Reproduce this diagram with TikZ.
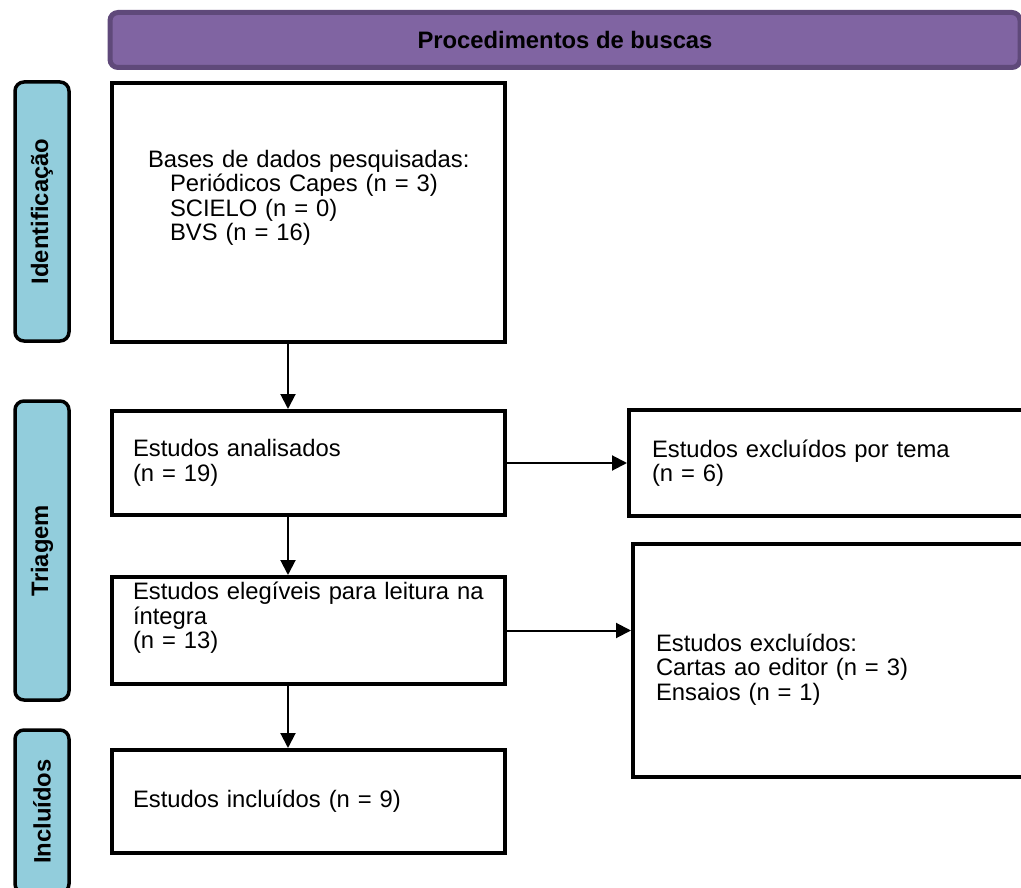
\documentclass[tikz,border=0pt]{standalone}
\usepackage{fontspec}
\setmainfont{Liberation Sans}
\usetikzlibrary{positioning, arrows.meta}
\definecolor{roxo}{HTML}{8064A2}
\definecolor{roxoescuro}{HTML}{5F497A}
\definecolor{azulclaro}{HTML}{92CDDC}
\newcommand{\corpo}{\fontsize{23.8}{24.5}\selectfont}
\tikzset{
    caixa/.style = {
        rectangle,
        draw,
        line width=4pt,
        align=left,
        anchor=north west,
        inner xsep=21pt,
        inner ysep=0pt,
        text width=351pt,
        font=\corpo
    },
    excluidos/.style = {caixa, anchor=west, minimum width=450pt, text width=404pt},
    etapa/.style = {
        rectangle,
        draw,
        rounded corners=9pt,
        line width=3.5pt,
        fill=azulclaro,
        rotate=90,
        minimum height=54pt,
        font=\corpo\bfseries
    },
    cabecalho/.style = {rectangle, draw=roxoescuro, fill=roxo, rounded corners=8pt,
        line width=5pt, minimum width=910pt, minimum height=55pt, font=\corpo\bfseries},
    seta/.style = {-{Triangle[length=15pt, width=15pt]}, line width=2pt}
}

\begin{document}
\begin{tikzpicture}[x=1pt, y=-1pt, node distance=60pt and 120pt]

\path[use as bounding box, clip] (0,0) rectangle (1021,888);

% Cabeçalho
\node[cabecalho] (busca) at (565,40) {Procedimentos de buscas};

% Etapas
\node[etapa, minimum width=259pt] (ident) at (42,211.5) {Identificação};
\node[etapa, minimum width=299pt] (triag) at (42,550.5) {Triagem};
\node[etapa, minimum width=163pt] (inclu) at (42,811.5) {Incluídos};

% Identificação
\node[caixa, minimum height=259pt, inner xsep=36pt, text width=321pt, text depth=108pt] (bases) at (110,81)
    {\mbox{Bases de dados pesquisadas:}\\
     \hspace*{22pt}Periódicos Capes (n = 3)\\
     \hspace*{22pt}SCIELO (n = 0)\\
     \hspace*{22pt}BVS (n = 16)};

% Triagem
\node[caixa, minimum height=104pt, below=65pt of bases.south west, anchor=north west] (analis)
    {Estudos analisados\\(n = 19)};
\node[caixa, minimum height=107pt, text depth=79pt, below=58pt of analis.south west, anchor=north west] (elegiv)
    {Estudos elegíveis para leitura na\\íntegra\\(n = 13)};

% Incluídos
\node[caixa, minimum height=103pt, below=62pt of elegiv.south west, anchor=north west] (incl)
    {Estudos incluídos (n = 9)};

% Excluídos
\node[excluidos, minimum height=106pt, right=of analis] (extema)
    {Estudos excluídos por tema\\(n = 6)};
\node[excluidos, minimum height=233pt, text height=35pt, right=124pt of elegiv, yshift=-30pt] (exout)
    {Estudos excluídos:\\Cartas ao editor (n = 3)\\Ensaios (n = 1)};

% Setas
\coordinate (eixo) at (288,0);
\draw[seta] (bases.south -| eixo) -- (analis.north -| eixo);
\draw[seta] (analis.south -| eixo) -- (elegiv.north -| eixo);
\draw[seta] (elegiv.south -| eixo) -- (incl.north -| eixo);
\draw[seta] (analis) -- (extema);
\draw[seta] (elegiv.east) -- (elegiv.east -| exout.west);

\end{tikzpicture}
\end{document}
